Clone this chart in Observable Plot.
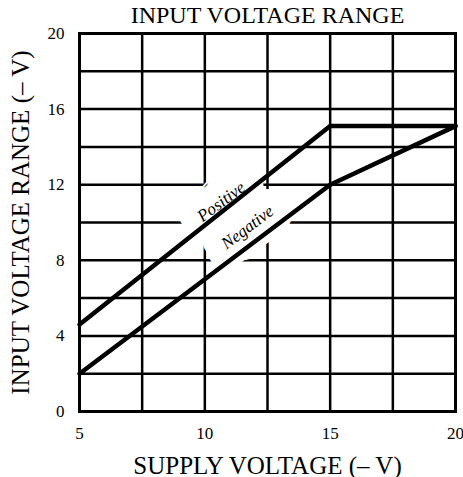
<!DOCTYPE html>
<html><head><meta charset="utf-8">
<script src="https://cdn.jsdelivr.net/npm/d3@7"></script>
<script src="https://cdn.jsdelivr.net/npm/@observablehq/plot@0.6"></script>
<style>body{margin:0;background:#fff;} svg{display:block;}</style>
</head><body><div id="chart"></div>
<script>
const supply = [5, 15, 20];
const positive = [4.6, 15.1, 15.1];
const negative = [2, 12, 15.1];
const xTicks = [5, 10, 15, 20];
const yTicks = [0, 4, 8, 12, 16, 20];
const xGrid = [5, 7.5, 10, 12.5, 15, 17.5, 20];
const yGrid = [0, 2, 4, 6, 8, 10, 12, 14, 16, 18, 20];
const labelText = ["Positive", "Negative"];
const labelX = [10.65, 11.7];
const labelY = [11.1, 9.75];
const title = "INPUT VOLTAGE RANGE";
const xTitle = "SUPPLY VOLTAGE (– V)";
const yTitle = "INPUT VOLTAGE RANGE (– V)";

const pos = supply.map((x, i) => ({x, y: positive[i]}));
const neg = supply.map((x, i) => ({x, y: negative[i]}));
const labels = labelText.map((t, i) => ({t, x: labelX[i], y: labelY[i]}));

const font = "Liberation Serif, Times New Roman, serif";
const chart = Plot.plot({
  width: 463, height: 477,
  marginLeft: 79, marginRight: 8, marginTop: 33, marginBottom: 66,
  style: {fontFamily: font, fontSize: "17px", color: "#000", background: "#fff"},
  x: {domain: [5, 20], label: null},
  y: {domain: [0, 20], label: null},
  marks: [
    Plot.ruleX(xGrid, {stroke: "#000", strokeWidth: 2.5}),
    Plot.ruleY(yGrid, {stroke: "#000", strokeWidth: 2.5}),
    Plot.frame({stroke: "#000", strokeWidth: 3}),
    Plot.axisX({ticks: xTicks, tickSize: 0, tickPadding: 15, fontSize: 17, label: null}),
    Plot.axisY({ticks: yTicks, tickSize: 0, tickPadding: 15, fontSize: 17, label: null}),
    Plot.text(labels, {x: "x", y: "y", text: "t", rotate: -37, fill: "#fff", stroke: "#fff", strokeWidth: 38, strokeLinejoin: "round", fontSize: 17, fontStyle: "italic"}),
    Plot.line(pos, {x: "x", y: "y", stroke: "#000", strokeWidth: 4.5}),
    Plot.line(neg, {x: "x", y: "y", stroke: "#000", strokeWidth: 4.5}),
    Plot.text(labels, {x: "x", y: "y", text: "t", rotate: -37, fill: "#000", fontSize: 17, fontStyle: "italic"}),
    Plot.text([title], {frameAnchor: "top", dy: -18, lineAnchor: "middle", textAnchor: "middle", fontSize: 24, fill: "#000"}),
    Plot.text([xTitle], {frameAnchor: "bottom", dy: 54, lineAnchor: "middle", textAnchor: "middle", fontSize: 25, fill: "#000"}),
    Plot.text([yTitle], {frameAnchor: "left", dx: -59, rotate: -90, lineAnchor: "middle", textAnchor: "middle", fontSize: 25, fill: "#000"})
  ]
});
document.getElementById("chart").appendChild(chart);
</script></body></html>
